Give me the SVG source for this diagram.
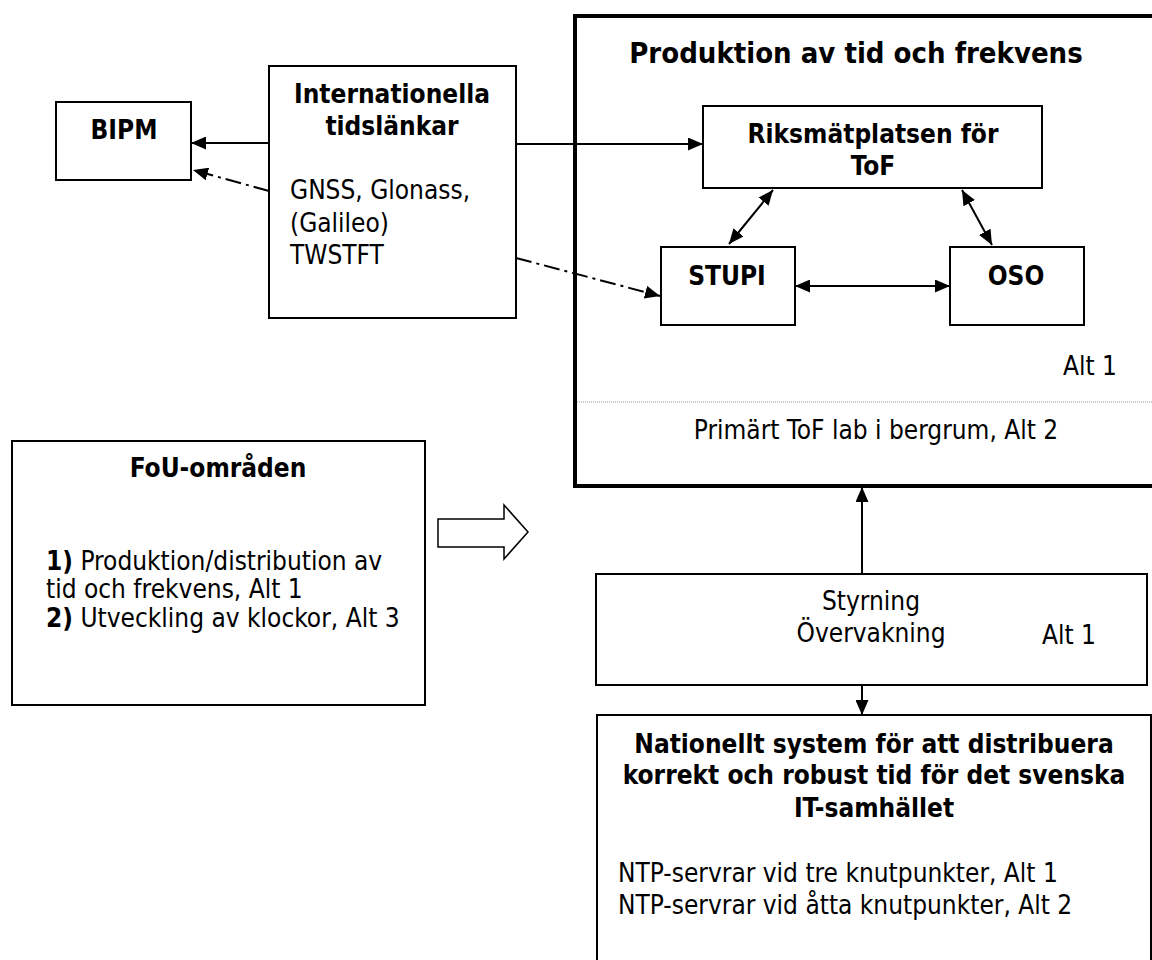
<svg xmlns="http://www.w3.org/2000/svg" width="1152" height="960" viewBox="0 0 1152 960">
<style>
text{font-family:"DejaVu Sans Condensed","DejaVu Sans",sans-serif;font-stretch:condensed;font-size:26px;fill:#000}
.b{font-weight:bold}
.c{text-anchor:middle}
.box{fill:#fff;stroke:#000;stroke-width:2}
.con{stroke:#000;stroke-width:2;fill:none}
.dd{stroke-dasharray:16 5 3 5}
</style>
<defs>
<marker id="ah" viewBox="0 0 15 13" refX="15" refY="6.5" markerWidth="15" markerHeight="13" markerUnits="userSpaceOnUse" orient="auto-start-reverse">
<path d="M0,0 L15,6.5 L0,13 z" fill="#000"/>
</marker>
</defs>
<rect width="1152" height="960" fill="#fff"/>
<g id="produktion">
<rect x="575" y="16" width="600" height="470" fill="#fff" stroke="#000" stroke-width="4"/>
<text class="b c" x="856" y="63" style="font-size:29px">Produktion av tid och frekvens</text>
<line x1="577" y1="402" x2="1152" y2="402" stroke="#999" stroke-width="1" stroke-dasharray="1 1"/>
<text x="1117" y="375" text-anchor="end">Alt 1</text>
<text class="c" x="876" y="439">Primärt ToF lab i bergrum, Alt 2</text>
</g>
<g id="bipm">
<rect class="box" x="56" y="102" width="135" height="78"/>
<text class="b c" x="124" y="139">BIPM</text>
</g>
<g id="internationella">
<rect class="box" x="269" y="66" width="247" height="252"/>
<text class="b c" x="392" y="103">Internationella</text>
<text class="b c" x="392" y="135">tidslänkar</text>
<text x="290" y="199">GNSS, Glonass,</text>
<text x="290" y="232">(Galileo)</text>
<text x="290" y="264">TWSTFT</text>
</g>
<g id="riksmat">
<rect class="box" x="703" y="106" width="339" height="82"/>
<text class="b c" x="873" y="143">Riksmätplatsen för</text>
<text class="b c" x="873" y="175">ToF</text>
</g>
<g id="stupi">
<rect class="box" x="661" y="247" width="134" height="78"/>
<text class="b c" x="727" y="285">STUPI</text>
</g>
<g id="oso">
<rect class="box" x="950" y="247" width="134" height="78"/>
<text class="b c" x="1016" y="285">OSO</text>
</g>
<g id="fou">
<rect class="box" x="12" y="441" width="413" height="264"/>
<text class="b c" x="218" y="477">FoU-områden</text>
<text x="46" y="570"><tspan class="b">1)</tspan> Produktion/distribution av</text>
<text x="46" y="598">tid och frekvens, Alt 1</text>
<text x="46" y="627"><tspan class="b">2)</tspan> Utveckling av klockor, Alt 3</text>
</g>
<g id="hollow-arrow">
<polygon points="438,519 504,519 504,505 528,532 504,559 504,547 438,547" fill="#fff" stroke="#000" stroke-width="1.5"/>
</g>
<g id="styrning">
<rect class="box" x="596" y="574" width="551" height="111"/>
<text class="c" x="871" y="610">Styrning</text>
<text class="c" x="871" y="642">Övervakning</text>
<text x="1042" y="644">Alt 1</text>
</g>
<g id="nationellt">
<rect class="box" x="597" y="715" width="554" height="260"/>
<text class="b c" x="874" y="753">Nationellt system för att distribuera</text>
<text class="b c" x="874" y="784">korrekt och robust tid för det svenska</text>
<text class="b c" x="874" y="817">IT-samhället</text>
<text x="618" y="882">NTP-servrar vid tre knutpunkter, Alt 1</text>
<text x="618" y="914">NTP-servrar vid åtta knutpunkter, Alt 2</text>
</g>
<g id="connectors">
<line class="con" x1="269" y1="143" x2="191" y2="143" marker-end="url(#ah)"/>
<line class="con" x1="516" y1="144" x2="703" y2="144" marker-end="url(#ah)"/>
<line class="con dd" x1="269" y1="191" x2="193" y2="170" marker-end="url(#ah)"/>
<line class="con dd" x1="516" y1="258" x2="660" y2="296" marker-end="url(#ah)"/>
<line class="con" x1="729" y1="244" x2="773" y2="190" marker-start="url(#ah)" marker-end="url(#ah)"/>
<line class="con" x1="962" y1="190" x2="992" y2="245" marker-start="url(#ah)" marker-end="url(#ah)"/>
<line class="con" x1="795" y1="286" x2="950" y2="286" marker-start="url(#ah)" marker-end="url(#ah)"/>
<line class="con" x1="862" y1="574" x2="862" y2="487" marker-end="url(#ah)"/>
<line class="con" x1="862" y1="685" x2="862" y2="715" marker-end="url(#ah)"/>
</g>
</svg>
